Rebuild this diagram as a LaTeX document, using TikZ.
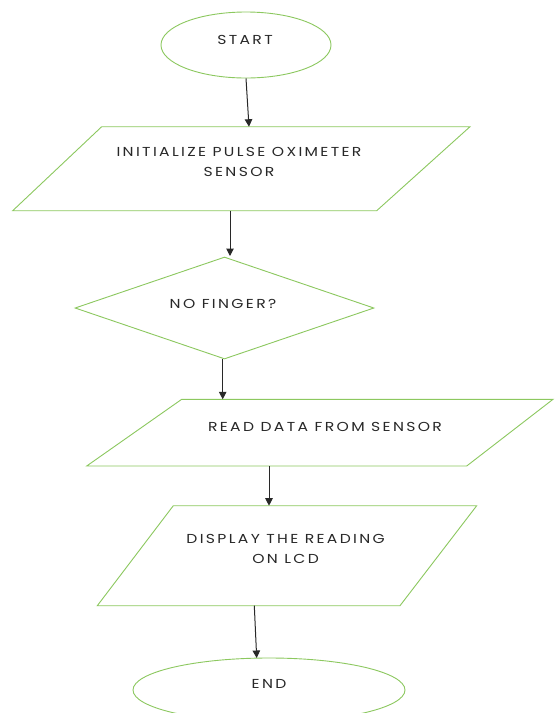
\documentclass[tikz,border=0pt]{standalone}
\usepackage{fontspec}
\setmainfont{Poppins}[LetterSpace=18, FakeStretch=1.2]
\usetikzlibrary{shapes.geometric,arrows.meta}
\definecolor{flowgreen}{RGB}{140,200,95}
\definecolor{inkgray}{RGB}{40,40,40}
\tikzset{
  outline/.style={draw=flowgreen, line width=0.9pt},
  shapebox/.style={outline, inner sep=0pt},
  caption/.style={font=\fontsize{13}{19.8}\selectfont, text=inkgray, align=center, inner sep=0pt},
  flow/.style={draw=inkgray, line width=1pt, -{Triangle[width=7.5pt,length=7.5pt]}},
}
\begin{document}
\begin{tikzpicture}[x=1pt,y=-1pt]
\useasboundingbox (0,0) rectangle (555,713);
\fill[white] (0,0) rectangle (555,713);

% terminators and decision
\node[shapebox, ellipse, minimum width=170pt, minimum height=66pt] (start) at (246,45) {};
\node[shapebox, diamond, minimum width=299pt, minimum height=102pt] (check) at (224.5,308) {};
\node[shapebox, ellipse, minimum width=272pt, minimum height=64pt] (stop) at (269,690) {};

% input/output parallelograms
\draw[outline] (101.7,126.7) -- (470,126.7) -- (376.7,210.7) -- (12.7,210.7) -- cycle;
\draw[outline] (181.7,399.3) -- (553,399.3) -- (466.7,466) -- (86.7,466) -- cycle;
\draw[outline] (173.3,505.7) -- (476.7,505.7) -- (400,605.7) -- (97.3,605.7) -- cycle;

% connector end points on the parallelogram edges
\coordinate (initIn)  at (249,126.7);
\coordinate (initOut) at (230,210.7);
\coordinate (checkIn) at (230,256);
\coordinate (checkOut) at (222.7,359);
\coordinate (readIn)  at (222.7,399.3);
\coordinate (readOut) at (269,466);
\coordinate (showIn)  at (269,505.7);
\coordinate (showOut) at (254.3,605.7);
\coordinate (stopIn)  at (256.7,658);

% texts
\node[caption] (tStart) at (245,40) {START};
\node[caption] (tInit)  at (239,162) {INITIALIZE PULSE OXIMETER\\SENSOR};
\node[caption] (tCheck) at (223,304) {NO FINGER?};
\node[caption] (tRead)  at (325,427) {READ DATA FROM SENSOR};
\node[caption] (tShow)  at (285.6,549) {DISPLAY THE READING\\ON LCD};
\node[caption] (tStop)  at (269,684) {END};

% connectors
\draw[flow] (start.south) -- (initIn);
\draw[flow] (initOut) -- (checkIn);
\draw[flow] (checkOut) -- (readIn);
\draw[flow] (readOut) -- (showIn);
\draw[flow] (showOut) -- (stopIn);
\end{tikzpicture}
\end{document}
